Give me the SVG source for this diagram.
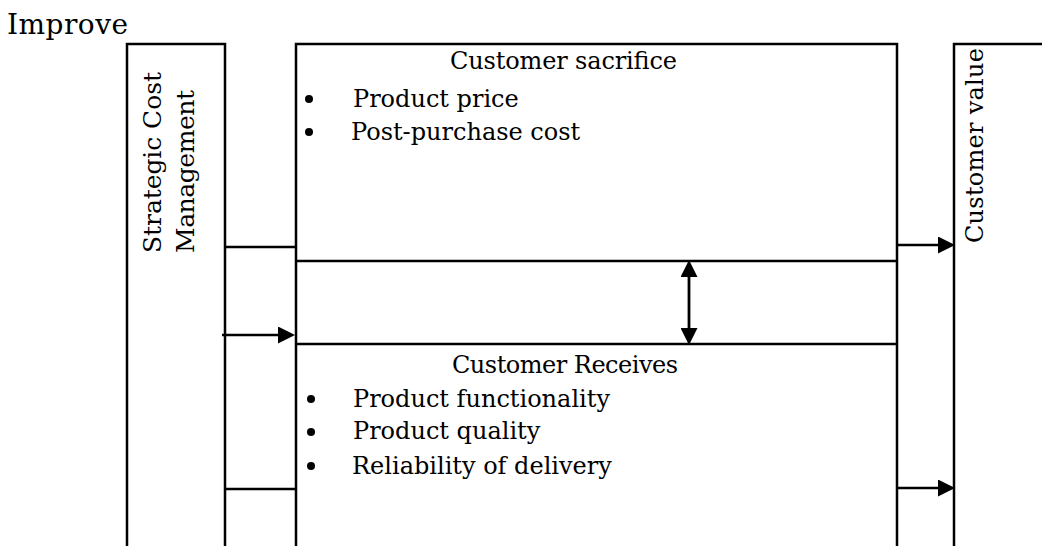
<svg xmlns="http://www.w3.org/2000/svg" width="1042" height="546" viewBox="0 0 1042 546">
<style>
text{font-family:"DejaVu Serif","Liberation Serif",serif;fill:#000;font-size:24px}
.box{fill:none;stroke:#000;stroke-width:2.5}
.ln{fill:none;stroke:#000;stroke-width:2.5}
.ar{fill:none;stroke:#000;stroke-width:2.4;marker-end:url(#ah)}
.da{fill:none;stroke:#000;stroke-width:2.8;marker-end:url(#ah);marker-start:url(#ah)}
</style>
<defs>
<marker id="ah" markerWidth="17" markerHeight="17" refX="6" refY="8.5" orient="auto-start-reverse" markerUnits="userSpaceOnUse">
<path d="M0,0 L17,8.5 L0,17 z" fill="#000"/>
</marker>
</defs>
<rect width="1042" height="546" fill="#fff"/>
<text id="title" x="7" y="34" style="font-size:28px" textLength="121">Improve</text>
<g id="strategic-cost-management">
<path class="box" d="M127,548 V44 H225 V548"/>
<text transform="translate(161,253) rotate(-90)" style="font-size:25px" textLength="181">Strategic Cost</text>
<text transform="translate(194,253) rotate(-90)" style="font-size:25px" textLength="163">Management</text>
</g>
<g id="customer-sacrifice">
<path class="box" d="M296,548 V44 H897 V548"/>
<line class="ln" x1="296" y1="261" x2="897" y2="261"/>
<text x="450" y="69" textLength="227">Customer sacrifice</text>
<circle cx="309" cy="99" r="4"/>
<text x="353" y="107">Product price</text>
<circle cx="309" cy="132" r="4"/>
<text x="351" y="140">Post-purchase cost</text>
</g>
<g id="customer-receives">
<line class="ln" x1="296" y1="344" x2="897" y2="344"/>
<text x="452" y="373" textLength="226">Customer Receives</text>
<circle cx="311" cy="399" r="4"/>
<text x="353" y="407">Product functionality</text>
<circle cx="311" cy="432" r="4"/>
<text x="353" y="439">Product quality</text>
<circle cx="311" cy="466" r="4"/>
<text x="352" y="474">Reliability of delivery</text>
</g>
<g id="customer-value">
<path class="box" d="M954,548 V44 H1046"/>
<text transform="translate(983,243) rotate(-90)" textLength="195">Customer value</text>
</g>
<g id="connectors">
<line class="ln" x1="225" y1="247" x2="296" y2="247"/>
<line class="ln" x1="225" y1="489" x2="296" y2="489"/>
<line class="ar" x1="222" y1="335" x2="284" y2="335"/>
<line class="ar" x1="897" y1="245" x2="944" y2="245"/>
<line class="ar" x1="897" y1="488" x2="944" y2="488"/>
<line class="da" x1="689" y1="271" x2="689" y2="334"/>
</g>
</svg>
